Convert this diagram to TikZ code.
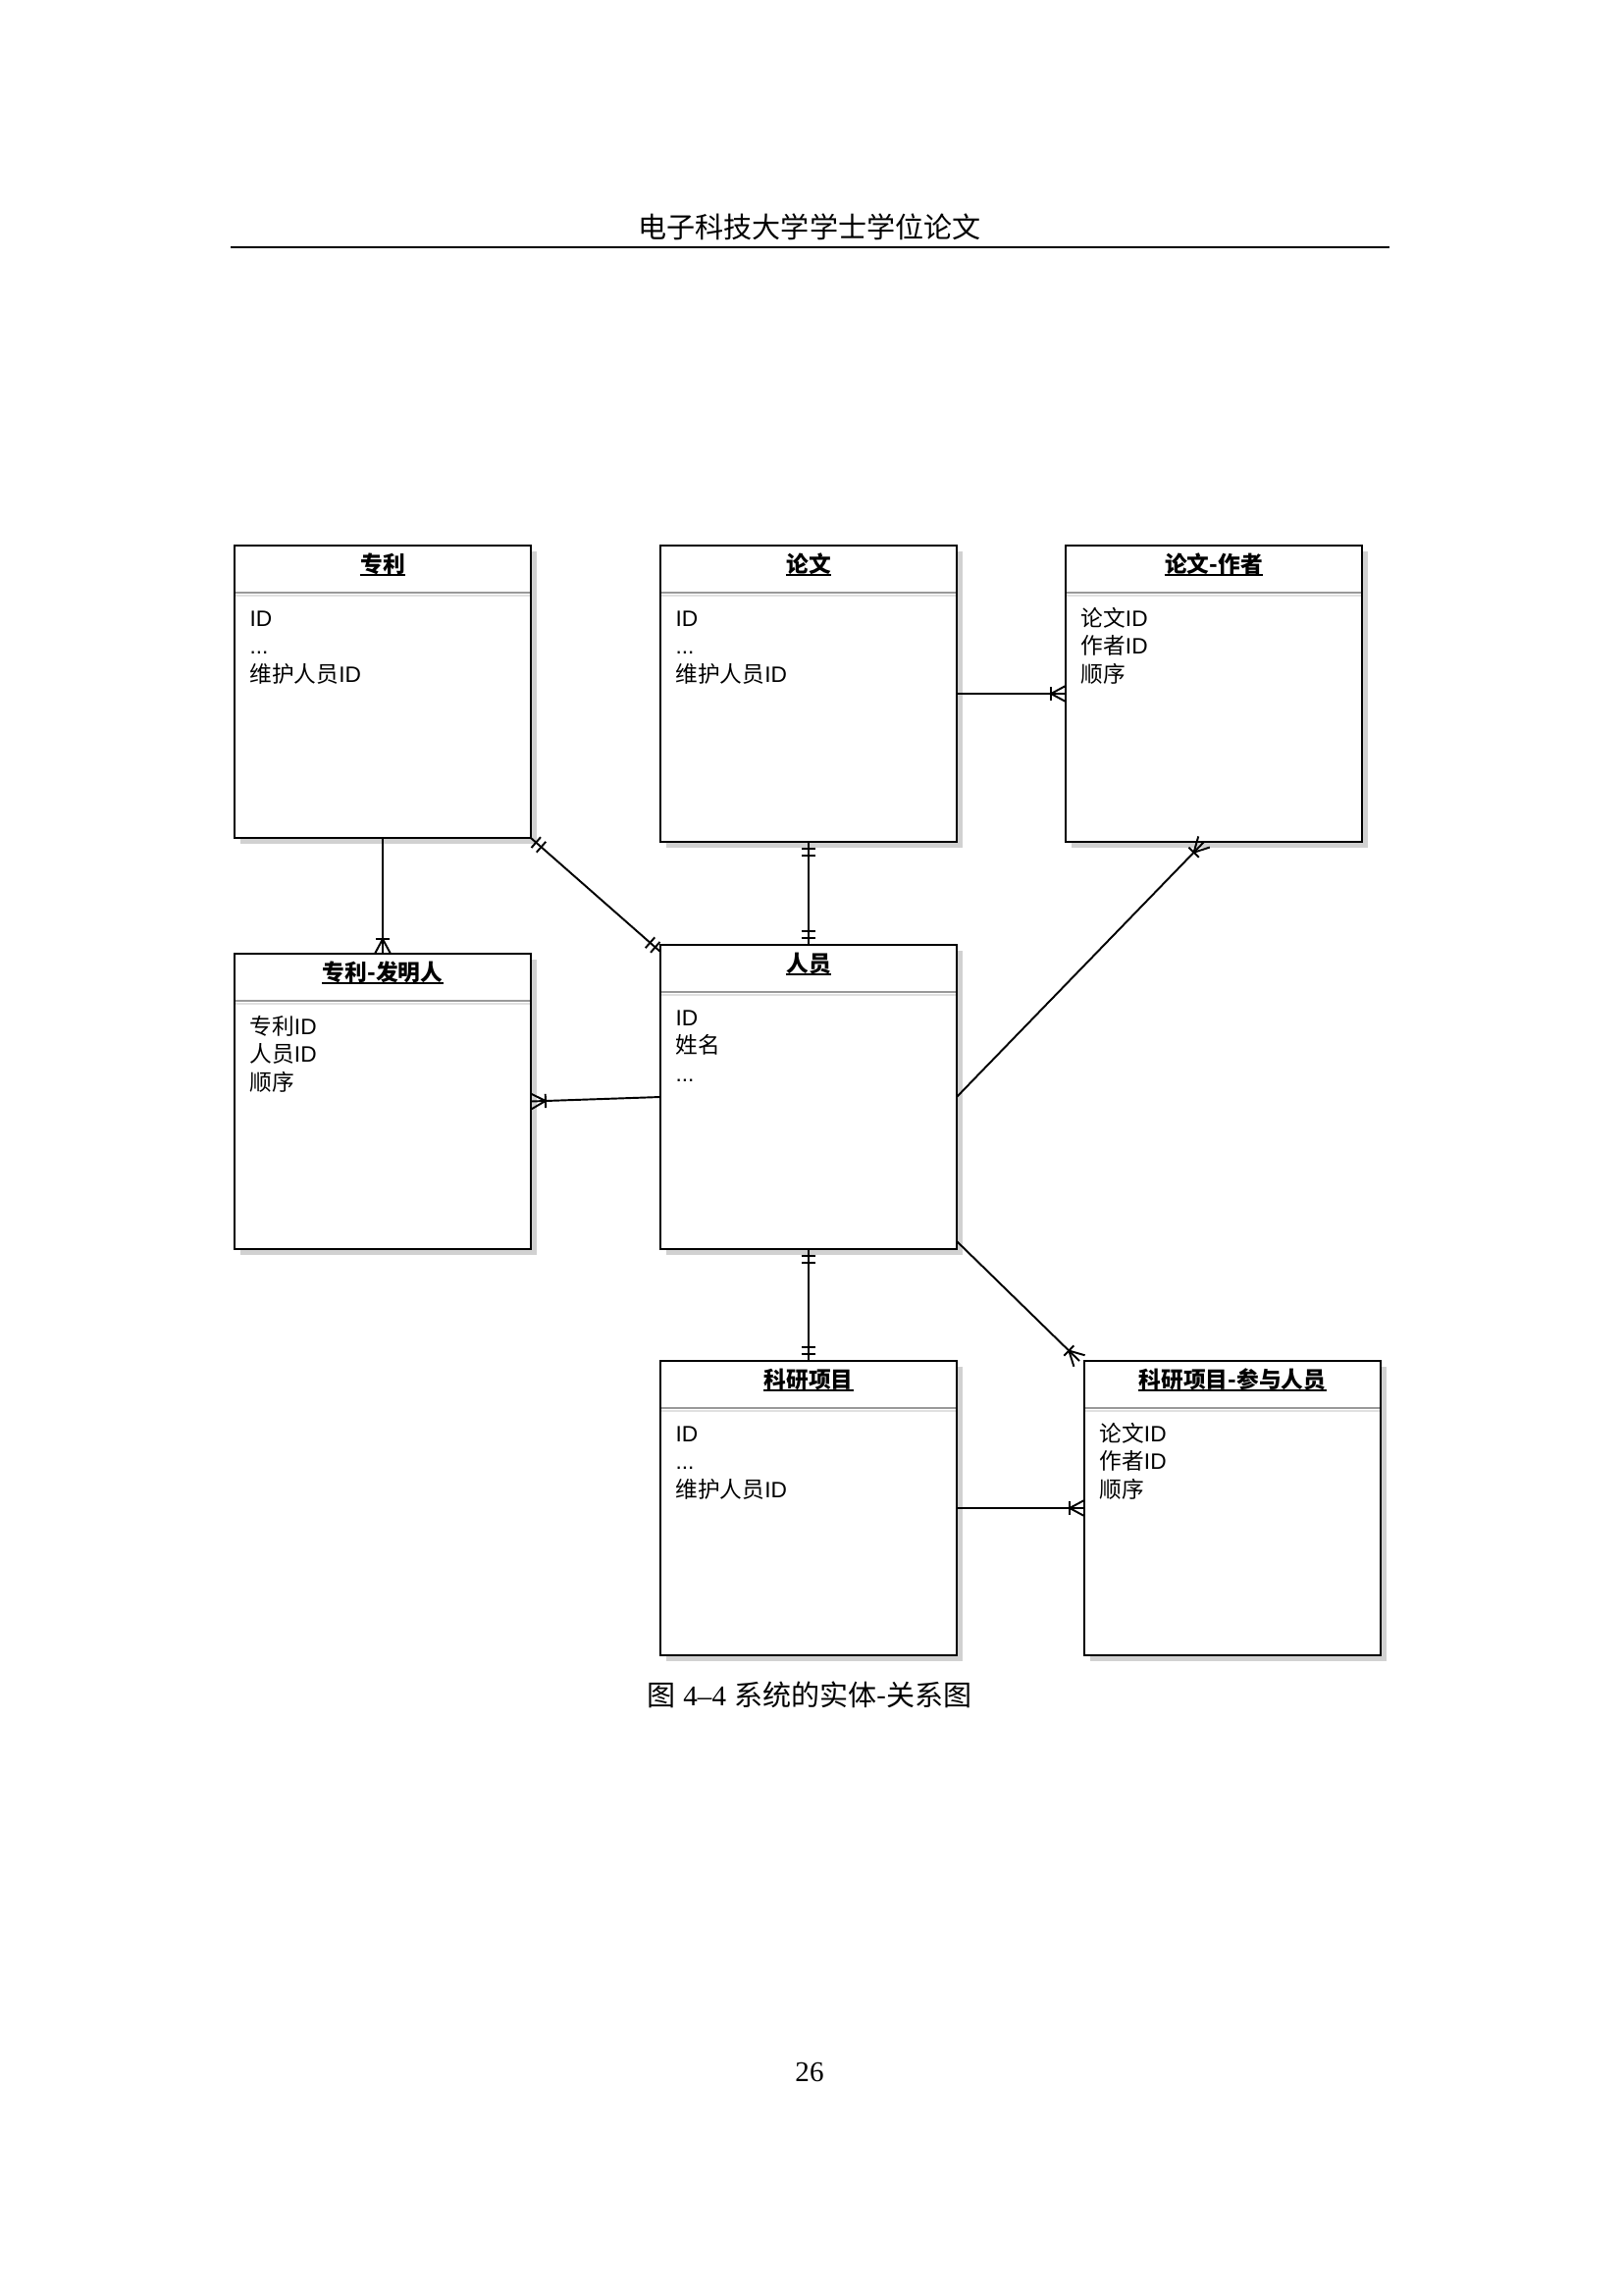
\documentclass[tikz,border=0pt]{standalone}
\usepackage{fontspec}
\setmainfont{Liberation Sans}
\newfontfamily\cjk{Noto Sans CJK SC}
\newfontfamily\tms{Liberation Serif}
\usetikzlibrary{calc}

\newcommand\C[1]{{\cjk #1}}

\tikzset{
  entbox/.style={draw=black, line width=0.95pt, fill=white, rectangle, inner sep=0pt, outer sep=0pt},
  shad/.style={fill=black!18},
  ttl/.style={font=\fontsize{8.2}{10}\selectfont\cjk\bfseries, inner sep=0pt, anchor=base},
  attr/.style={font=\fontsize{8.2}{10}\selectfont, inner sep=0pt, anchor=base west},
  sepline/.style={draw=black!40, line width=0.8pt},
  sepshade/.style={draw=black!12, line width=0.6pt},
  conn/.style={draw=black, line width=0.7pt},
  uline/.style={draw=black, line width=0.6pt},
  pagetext/.style={font=\fontsize{10.5}{12}\selectfont, inner sep=0pt},
}

% #1 name, #2 left, #3 top, #4 right, #5 bottom, #6 title, #7-#9 attribute lines
\newcommand\ent[9]{%
  \fill[shad] (#2+6,#3+6) rectangle (#4+6,#5+6);
  \node[entbox, minimum width={(#4-#2)*0.36125pt}, minimum height={(#5-#3)*0.36125pt}] (#1) at ({(#2+#4)/2},{(#3+#5)/2}) {};
  \draw[sepline] (#2+1,#3+48) -- (#4-1,#3+48);
  \draw[sepshade] (#2+1,#3+51) -- (#4-1,#3+51);
  \node[ttl] (#1-t) at ({(#2+#4)/2},#3+27) {#6};
  \draw[uline] ($(#1-t.base west)+(0,3)$) -- ($(#1-t.base east)+(0,3)$);
  \node[attr] (#1-a) at (#2+15,#3+82) {#7};
  \node[attr] (#1-b) at (#2+15,#3+110) {#8};
  \node[attr] (#1-c) at (#2+15,#3+139) {#9};
}

% crow's foot with bar at #1 (box end), line coming from #2
\newcommand\crowft[2]{%
  \coordinate (tmpA) at ($(#1)!5.4pt!(#2)$);
  \draw[conn] (tmpA) -- ($(#1)!2.9pt!90:(#2)$);
  \draw[conn] (tmpA) -- ($(#1)!2.9pt!-90:(#2)$);
  \draw[conn] ($(tmpA)!2.6pt!90:(#2)$) -- ($(tmpA)!2.6pt!-90:(#2)$);
}
% two bars (one and only one) at #1, line coming from #2
\newcommand\onlyone[2]{%
  \coordinate (tmpB) at ($(#1)!2.53pt!(#2)$);
  \coordinate (tmpC) at ($(#1)!5.06pt!(#2)$);
  \draw[conn] ($(tmpB)!2.6pt!90:(#2)$) -- ($(tmpB)!2.6pt!-90:(#2)$);
  \draw[conn] ($(tmpC)!2.6pt!90:(#2)$) -- ($(tmpC)!2.6pt!-90:(#2)$);
}

\begin{document}
\begin{tikzpicture}[x=0.36125pt, y=-0.36125pt]
\path[use as bounding box, fill=white] (0,0) rectangle (1654,2339);

% page header
\node[pagetext, font=\fontsize{10.5}{12}\selectfont\cjk] (hdr) at (825,231) {电子科技大学学士学位论文};
\draw[line width=0.65pt] (235,252) -- (1416,252);

% entities
\ent{zl}{239}{556}{541}{854}{专利}{ID}{...}{\C{维护人员}ID}
\ent{lw}{673}{556}{975}{858}{论文}{ID}{...}{\C{维护人员}ID}
\ent{lwz}{1086}{556}{1388}{858}{论文-作者}{\C{论文}ID}{\C{作者}ID}{\C{顺序}}
\ent{zlf}{239}{972}{541}{1273}{专利-发明人}{\C{专利}ID}{\C{人员}ID}{\C{顺序}}
\ent{ry}{673}{963}{975}{1273}{人员}{ID}{\C{姓名}}{...}
\ent{ky}{673}{1387}{975}{1687}{科研项目}{ID}{...}{\C{维护人员}ID}
\ent{kc}{1105}{1387}{1407}{1687}{科研项目-参与人员}{\C{论文}ID}{\C{作者}ID}{\C{顺序}}

% connectors
\draw[conn] (zl.south) -- (zlf.north);
\crowft{zlf.north}{zl.south}

\coordinate (p1) at ($(ry.north west)+(0,7)$);
\draw[conn] (zl.south east) -- (p1);
\onlyone{zl.south east}{p1}
\onlyone{p1}{zl.south east}

\draw[conn] (lw.south) -- (ry.north);
\onlyone{lw.south}{ry.north}
\onlyone{ry.north}{lw.south}

\draw[conn] (lw.east) -- (lwz.west);
\crowft{lwz.west}{lw.east}

\coordinate (p2) at ($(lwz.south)+(-10,0)$);
\draw[conn] (ry.east) -- (p2);
\crowft{p2}{ry.east}

\draw[conn] (ry.west) -- (zlf.east);
\crowft{zlf.east}{ry.west}

\draw[conn] (ry.south) -- (ky.north);
\onlyone{ry.south}{ky.north}
\onlyone{ky.north}{ry.south}

\coordinate (p3) at ($(ry.south east)+(0,-8)$);
\coordinate (p4) at ($(kc.north west)+(-5,0)$);
\draw[conn] (p3) -- (p4);
\crowft{p4}{p3}

\draw[conn] (ky.east) -- (kc.west);
\crowft{kc.west}{ky.east}

% caption and page number
\node[pagetext] (cap) at (825,1727) {\C{图} {\tms 4–4} \C{系统的实体-关系图}};
\node[pagetext] (pg) at (825,2112) {\tms 26};
\end{tikzpicture}
\end{document}
